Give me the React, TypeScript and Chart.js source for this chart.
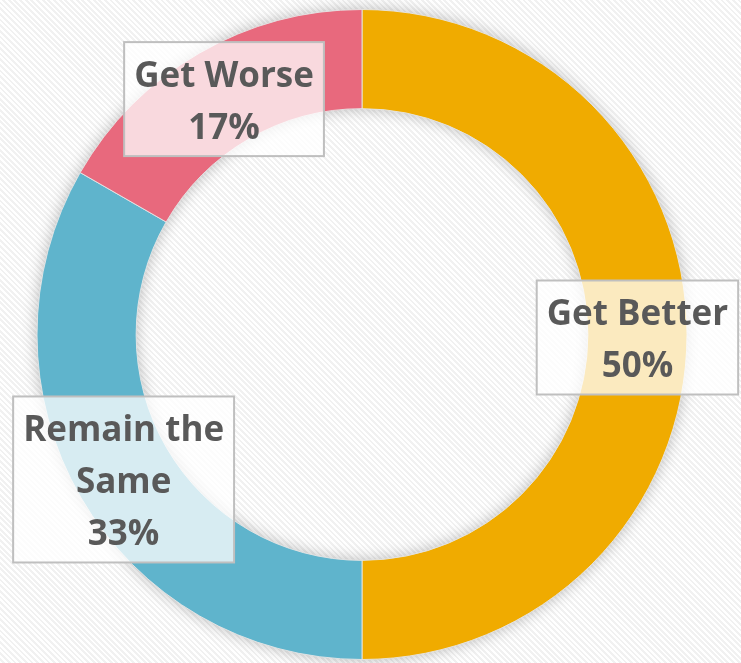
import React, { useEffect, useRef } from "react";
import { Chart, registerables } from "chart.js";

Chart.register(...registerables);

const categories: string[] = ["Get Better", "Remain the Same", "Get Worse"];
const labelLines: string[][] = [["Get Better", "50%"], ["Remain the", "Same", "33%"], ["Get Worse", "17%"]];
const values: number[] = [50, 33.3, 16.7];
const colors: string[] = ["#F0AB00", "#5FB4CC", "#E8697D"];

const FONT = "bold 35px 'Open Sans', Lato, sans-serif";
const LINE_H = 52;

const shadowPlugin = {
  id: "ringShadow",
  beforeDatasetsDraw(chart: any) {
    const meta = chart.getDatasetMeta(0);
    const arc = meta.data[0];
    if (!arc) return;
    const { x, y, outerRadius, innerRadius } = arc.getProps(["x", "y", "outerRadius", "innerRadius"], true);
    const ctx = chart.ctx;
    ctx.save();
    ctx.shadowColor = "rgba(0,0,0,0.3)";
    ctx.shadowBlur = 16;
    ctx.fillStyle = "#cccccc";
    ctx.beginPath();
    ctx.arc(x, y, outerRadius - 1, 0, Math.PI * 2);
    ctx.arc(x, y, innerRadius + 1, 0, Math.PI * 2, true);
    ctx.closePath();
    ctx.fill();
    ctx.restore();
  },
};

const boxLabelPlugin = {
  id: "boxLabels",
  afterDatasetsDraw(chart: any) {
    const meta = chart.getDatasetMeta(0);
    const ctx = chart.ctx;
    ctx.save();
    ctx.font = FONT;
    ctx.textAlign = "center";
    ctx.textBaseline = "middle";
    meta.data.forEach((el: any, i: number) => {
      const c = el.getCenterPoint();
      const lines = labelLines[i];
      let w = 0;
      lines.forEach((l) => (w = Math.max(w, ctx.measureText(l).width)));
      const bw = w + 20;
      const bh = lines.length * LINE_H + 10;
      const cy = c.y + (lines.length === 3 ? 7 : 3);
      const bx = c.x - bw / 2;
      const by = cy - bh / 2;
      ctx.fillStyle = "rgba(255,255,255,0.75)";
      ctx.fillRect(bx, by, bw, bh);
      ctx.strokeStyle = "#BFBFBF";
      ctx.lineWidth = 2;
      ctx.strokeRect(bx, by, bw, bh);
      ctx.fillStyle = "#595959";
      lines.forEach((l, j) => {
        ctx.fillText(l, c.x, by + 9 + LINE_H * (j + 0.5));
      });
    });
    ctx.restore();
  },
};

export default function App() {
  const ref = useRef<HTMLCanvasElement | null>(null);
  useEffect(() => {
    if (!ref.current) return;
    const chart = new Chart(ref.current, {
      type: "doughnut",
      data: {
        labels: categories,
        datasets: [
          {
            data: values,
            backgroundColor: colors,
            borderColor: "rgba(230,230,230,0.9)",
            borderWidth: 1,
          },
        ],
      },
      options: {
        animation: false,
        responsive: true,
        maintainAspectRatio: false,
        cutout: "69.5%",
        layout: { padding: { top: 9, bottom: 3, left: 0, right: 17 } },
        plugins: {
          legend: { display: false },
          tooltip: { enabled: false },
        },
      },
      plugins: [shadowPlugin, boxLabelPlugin],
    });
    return () => chart.destroy();
  }, []);
  return (
    <div
      style={{
        position: "fixed",
        left: 0,
        top: 0,
        width: 741,
        height: 663,
        background:
          "repeating-linear-gradient(45deg, #ffffff 0px, #ffffff 2px, #f1f1f1 2px, #f1f1f1 4px)",
      }}
    >
      <canvas ref={ref} />
    </div>
  );
}
